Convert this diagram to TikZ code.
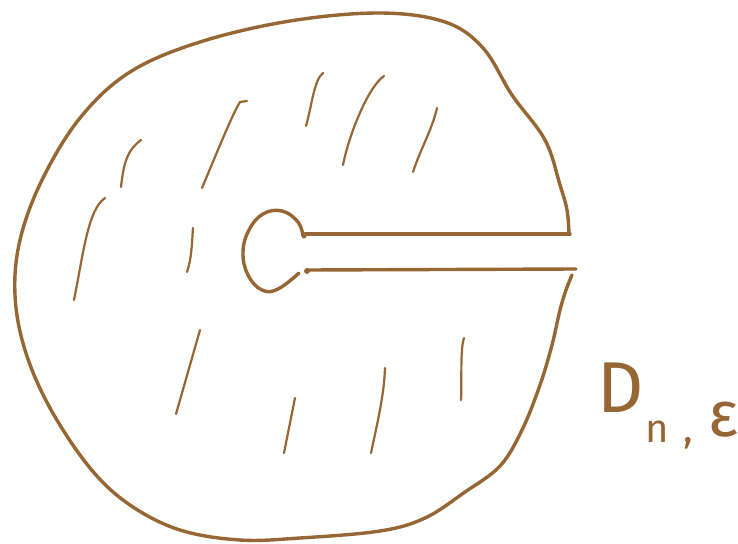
\documentclass[tikz,border=0pt]{standalone}
\usepackage{fontspec}
\setmainfont{Fira Sans}
\definecolor{ink}{RGB}{150,102,52}
\begin{document}
\begin{tikzpicture}[x=1pt,y=-1pt,
  rim/.style={draw=ink,line width=3.4pt,line cap=round,line join=round},
  hatch/.style={draw=ink,line width=2.2pt,line cap=round}]
\useasboundingbox (0,0) rectangle (738,543);
% outer boundary
\draw[rim] plot[smooth,tension=0.6] coordinates {
 (569,234) (567,210) (560,185) (545,140) (512,95) (483,48) (445,22) (380,13)
 (290,21) (200,42) (130,72) (80,118) (42,180) (20,240) (15,295) (25,350)
 (50,408) (90,468) (130,505) (180,530) (240,540) (300,538) (380,531)
 (425,518) (465,492) (500,466) (522,430) (540,385) (552,345) (560,310) (566,290) (572,275)};
% keyhole
\draw[rim] (305,234) -- (570,234);
\draw[rim] (307,270) -- (576,269);
\draw[rim] plot[smooth,tension=0.7] coordinates {
 (303,236) (298,222) (282,211) (263,214) (249,230) (243,252) (248,275)
 (262,290) (278,289) (299,273)};
\fill[ink] (304,236) circle (2.5pt);
\fill[ink] (307,271) circle (3pt);
% hatch strokes
\draw[hatch] (121,187) .. controls (124,160) and (128,150) .. (141,140);
\draw[hatch] (74,300) .. controls (84,250) and (88,210) .. (105,198);
\draw[hatch] (187,272) .. controls (192,258) and (192,240) .. (193,228);
\draw[hatch] (202,188) .. controls (218,150) and (232,115) .. (240,102) -- (247,101);
\draw[hatch] (306,126) .. controls (312,105) and (314,80) .. (323,73);
\draw[hatch] (343,165) .. controls (350,130) and (370,85) .. (384,76);
\draw[hatch] (413,172) .. controls (420,150) and (432,130) .. (437,108);
\draw[hatch] (176,414) -- (200,330);
\draw[hatch] (284,453) -- (295,398);
\draw[hatch] (371,453) .. controls (378,420) and (384,395) .. (385,368);
\draw[hatch] (461,400) .. controls (462,380) and (460,350) .. (464,338);
% label
\node[anchor=base west,text=ink,inner sep=0pt] (lbl) at (597,412)
  {\fontsize{72}{72}\selectfont D\hspace{2pt}\raisebox{-30pt}{\fontsize{40}{40}\selectfont n\hspace{14pt},\hspace{16pt}\raisebox{6pt}{\fontsize{64}{64}\selectfont ε}}};
\end{tikzpicture}
\end{document}
